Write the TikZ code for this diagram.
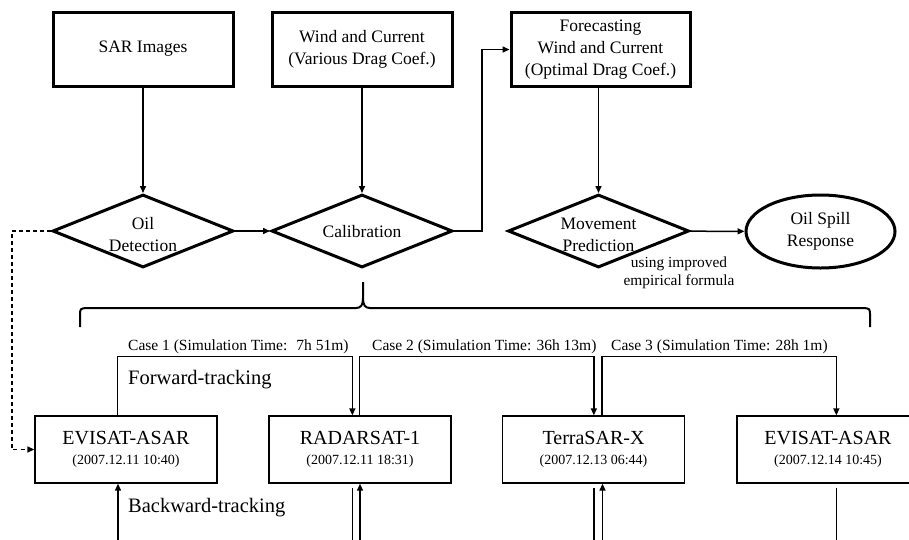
\documentclass[tikz,border=0pt]{standalone}
\usepackage{fontspec}
\setmainfont{Liberation Serif}
\usetikzlibrary{shapes.geometric,arrows.meta}
\begin{document}
\begin{tikzpicture}[x=1pt,y=-1pt,
  thickbox/.style={draw,line width=3pt,minimum width=180pt,minimum height=74pt,align=center,inner sep=0,font=\fontsize{17.5}{22}\selectfont},
  dia/.style={draw,diamond,line width=3pt,minimum width=181pt,minimum height=73pt,inner sep=0},
  lbl/.style={align=center,inner sep=0,font=\fontsize{17.5}{22}\selectfont},
  satbox/.style={draw,line width=1.3pt,minimum width=182pt,minimum height=67pt,inner sep=0,align=center,font=\fontsize{20}{19.5}\selectfont},
  datef/.style={},
  casefont/.style={anchor=west,inner sep=0,font=\fontsize{15.5}{18}\selectfont},
  tracklbl/.style={anchor=west,inner sep=0,font=\fontsize{20.5}{24}\selectfont},
  arr/.style={line width=1.5pt,-{Triangle[length=7pt,width=6pt]}},
  ln/.style={line width=1.5pt},
  brace/.style={line width=2pt},
]
\newcommand{\dtf}{\fontsize{14}{19.5}\selectfont}
\useasboundingbox (0,0) rectangle (909,539);
\fill[white] (0,0) rectangle (909,539);

% top boxes
\node[thickbox] (sar) at (143,49) {SAR Images};
\node[thickbox] (wind) at (362,49) {Wind and Current\\(Various Drag Coef.)};
\node[thickbox,minimum width=179pt] (fore) at (600.5,49.5) {Forecasting\\Wind and Current\\(Optimal Drag Coef.)};

% decisions
\node[dia] (od) at (143,231) {};
\node[lbl] (odt) at (143,235) {Oil\\Detection};
\node[dia] (cal) at (362,231) {};
\node[lbl] (calt) at (362,232) {Calibration};
\node[dia] (mp) at (598.5,231) {};
\node[lbl] (mpt) at (598.5,235) {Movement\\Prediction};
\node[draw,ellipse,line width=3pt,minimum width=149pt,minimum height=73pt,lbl] (osr) at (820.5,231.5) {Oil Spill\\Response};
\node[align=center,inner sep=0,font=\fontsize{15.4}{18.5}\selectfont] (uif) at (679,273) {using improved\\empirical formula};

\coordinate (bend) at (482,231);
\coordinate (dl) at (12,231);

\draw[arr] (sar) -- (od);
\draw[arr] (wind) -- (cal);
\draw[arr] (mp.north |- fore.south) -- (mp.north);
\draw[arr] (od) -- (cal);
\draw[arr] (cal.east) -- (bend) |- (fore.west);
\draw[arr] (mp) -- (osr);

% brace
\coordinate (brl) at (80,327);
\coordinate (brr) at (870,327);
\coordinate (brt) at (363,282);
\draw[brace] (brl) -- (80,316) .. controls (80,308.5) .. (87,308) -- (356,308) .. controls (361,308) and (363,305) .. (363,298) -- (brt);
\draw[brace] (brr) -- (870,316) .. controls (870,308.5) .. (863,308) -- (370,308) .. controls (365,308) and (363,305) .. (363,298);

% satellite boxes
\node[satbox] (ev1) at (126,449.5) {EVISAT-ASAR\\{\dtf (2007.12.11 10:40)}};
\node[satbox] (rs) at (360,449.5) {RADARSAT-1\\{\dtf (2007.12.11 18:31)}};
\node[satbox] (ts) at (593.5,449.5) {TerraSAR-X\\{\dtf (2007.12.13 06:44)}};
\node[satbox] (ev2) at (828,449.5) {EVISAT-ASAR\\{\dtf (2007.12.14 10:45)}};

\draw[arr,line width=1.3pt,dash pattern=on 4pt off 3pt] (od.west) -- (dl) |- (ev1.west);

% cases
\draw[arr] ([xshift=83pt]ev1.north west) -- ++(0,-59) -| ([xshift=84pt]rs.north west);
\draw[arr] ([xshift=91pt]rs.north west) -- ++(0,-59) -| ([xshift=92pt]ts.north west);
\draw[arr] ([xshift=100pt]ts.north west) -- ++(0,-59) -| ([xshift=100pt]ev2.north west);
\node[casefont] (c1) at (128,347) {Case 1 (Simulation Time: \ 7h 51m)};
\node[casefont] (c2) at (372,347) {Case 2 (Simulation Time: 36h 13m)};
\node[casefont] (c3) at (611,347) {Case 3 (Simulation Time: 28h 1m)};
\node[tracklbl] (fw) at (128,380) {Forward-tracking};
\node[tracklbl] (bw) at (128,508) {Backward-tracking};

% backward
\coordinate (e1) at (118,542);
\coordinate (e2) at (360,542);
\coordinate (e3) at (602.5,542);
\draw[arr] (e1) -- (e1 |- ev1.south);
\draw[arr] (e2) -- (e2 |- rs.south);
\draw[arr] (e3) -- (e3 |- ts.south);
\draw[ln] ([xshift=84pt,yshift=-4pt]rs.south west) -- ++(0,60);
\draw[ln] ([xshift=92pt,yshift=-4pt]ts.south west) -- ++(0,60);
\draw[ln] ([xshift=100pt,yshift=-4pt]ev2.south west) -- ++(0,60);
\end{tikzpicture}
\end{document}
